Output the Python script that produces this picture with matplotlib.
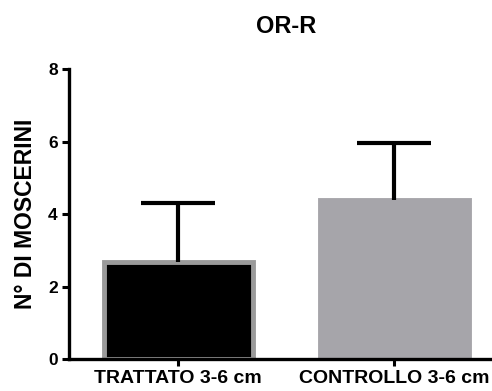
import matplotlib

matplotlib.use("Agg")

import matplotlib.pyplot as plt

plt.rcParams["font.family"] = ["Liberation Sans", "DejaVu Sans"]
plt.rcParams["font.weight"] = "bold"

# mean number of flies per group and the SEM shown above each bar
groups = ["TRATTATO 3-6 cm", "CONTROLLO 3-6 cm"]
means = [2.68, 4.38]
sems = [1.62, 1.59]
yticks = [0, 2, 4, 6, 8]

fig = plt.figure(figsize=(4.92, 3.91), dpi=100)
ax = fig.add_axes([0.1402, 0.0818, 0.86, 0.7417])

x = list(range(len(groups)))
ax.bar(x, means, width=0.69, color=["black", "#a6a5aa"],
       edgecolor=["#9a9a9a", "#a6a5aa"], linewidth=3.5, zorder=2)

# upper-only error bars: stem from the mean plus a cap at mean + SEM
tops = [m + s for m, s in zip(means, sems)]
ax.vlines(x, means, tops, color="black", linewidth=3.0, zorder=3)
ax.hlines(tops, [xi - 0.17 for xi in x], [xi + 0.17 for xi in x],
          color="black", linewidth=3.0, zorder=3)

ax.set_xlim(-0.505, 1.453)
ax.set_ylim(0, 8)
ax.set_yticks(yticks)
ax.set_xticks(x)
ax.set_xticklabels(groups, fontsize=14, fontweight="bold")
ax.tick_params(axis="y", labelsize=12.5, width=2.2, length=5, pad=3)
ax.tick_params(axis="x", width=2.2, length=5, pad=3)
for lab in ax.get_yticklabels():
    lab.set_fontweight("bold")

for side in ("top", "right"):
    ax.spines[side].set_visible(False)
for side in ("left", "bottom"):
    ax.spines[side].set_linewidth(2.4)

ax.set_ylabel("N° DI MOSCERINI", fontsize=16.5, fontweight="bold", labelpad=8)
fig.text(0.581, 0.931, "OR-R", ha="center", va="center", fontsize=17, fontweight="bold")

fig.savefig("out.png", dpi=100)
